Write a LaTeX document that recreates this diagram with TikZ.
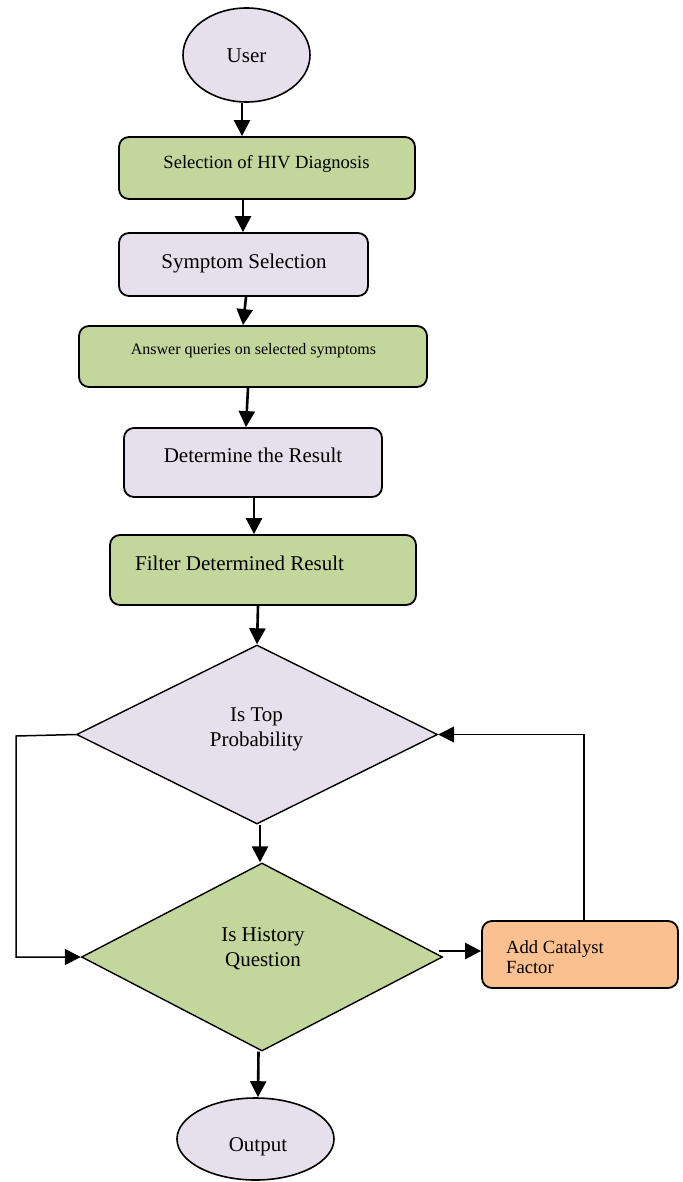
\documentclass[tikz,border=0pt]{standalone}
\usepackage{fontspec}
\setmainfont{Liberation Serif}
\usetikzlibrary{shapes.geometric,arrows.meta,calc}
\definecolor{lav}{HTML}{E5E0EC}
\definecolor{grn}{HTML}{C3D69B}
\definecolor{org}{HTML}{FAC090}
\begin{document}
\begin{tikzpicture}[x=1pt,y=-1pt,
  box/.style={draw=black,line width=1.8pt,rounded corners=10pt,inner sep=0pt},
  ell/.style={ellipse,draw=black,line width=1.6pt,inner sep=0pt,fill=lav},
  dia/.style={diamond,draw=black,line width=1.4pt,inner sep=0pt},
  txt/.style={inner sep=0pt,font=\fontsize{21}{25}\selectfont},
  smalltxt/.style={inner sep=0pt,font=\fontsize{18.6}{20}\selectfont},
  tinytxt/.style={inner sep=0pt,font=\fontsize{16}{19}\selectfont},
  arr/.style={line width=2.6pt,-{Triangle[length=16pt,width=16pt]}},
  back/.style={line width=1.5pt,-{Triangle[length=16pt,width=16pt]}},
]
\useasboundingbox (0,0) rectangle (682,1182);

% shapes
\node[ell,minimum width=127pt,minimum height=94pt] (user) at (246.5,55) {};
\node[box,fill=grn,minimum width=296pt,minimum height=62pt] (sel) at (267,168) {};
\node[box,fill=lav,minimum width=249pt,minimum height=63pt] (sym) at (243.5,264.5) {};
\node[box,fill=grn,minimum width=348pt,minimum height=61pt] (ans) at (253,356.5) {};
\node[box,fill=lav,minimum width=258pt,minimum height=69pt] (det) at (253,462.5) {};
\node[box,fill=grn,minimum width=306pt,minimum height=70pt] (fil) at (263,570) {};
\node[dia,fill=lav,minimum width=361pt,minimum height=179pt] (d1) at (257,734.5) {};
\node[dia,fill=grn,minimum width=361pt,minimum height=188pt] (d2) at (262,957) {};
\node[box,fill=org,minimum width=196pt,minimum height=67pt] (cat) at (580,954.5) {};
\node[ell,minimum width=157pt,minimum height=82pt] (out) at (255.5,1139) {};

% texts
\node[txt,anchor=base] (tuser) at (246.5,63) {User};
\node[smalltxt,anchor=base] (tsel) at (266.5,169) {Selection of HIV Diagnosis};
\node[txt,anchor=base] (tsym) at (244,268) {Symptom Selection};
\node[tinytxt,anchor=base] (tans) at (253.5,354) {Answer queries on selected symptoms};
\node[txt,anchor=base] (tdet) at (253,462) {Determine the Result};
\node[txt,anchor=base west] (tfil) at (135,570) {Filter Determined Result};
\node[txt,anchor=base] (td1a) at (256.5,721) {Is Top};
\node[txt,anchor=base] (td1b) at (256.5,746) {Probability};
\node[txt,anchor=base] (td2a) at (263,941) {Is History};
\node[txt,anchor=base] (td2b) at (263,966) {Question};
\node[smalltxt,anchor=base west] (tcat1) at (506,953) {Add Catalyst};
\node[smalltxt,anchor=base west] (tcat2) at (506,973) {Factor};
\node[txt,anchor=base] (tout) at (258,1151) {Output};

% connectors
\draw[arr] ([xshift=-4.5pt]user.south) -- ([xshift=-4.5pt]user.south |- sel.north);
\draw[arr] ([xshift=-24pt]sel.south) -- ([xshift=-24pt]sel.south |- sym.north);
\draw[arr] ([xshift=2.5pt]sym.south) -- ([xshift=-10pt]ans.north);
\draw[arr] ([xshift=-5pt]ans.south) -- ([xshift=-7pt]det.north);
\draw[arr] ([xshift=1pt]det.south) -- ([xshift=1pt]det.south |- fil.north);
\draw[arr] ([xshift=-5pt]fil.south) -- (d1.north);
\draw[arr] ([xshift=3pt]d1.south) -- ([xshift=-2pt]d2.north);
\draw[arr] ([xshift=-3.5pt]d2.south) -- ([xshift=2.5pt]out.north);
\coordinate (d2r) at ($(d2.east)+(-4,-6)$);
\draw[arr] (d2r) -- (d2r -| cat.west);

\coordinate (lft) at (16,736);
\draw[back] (d1.west) -- (lft) |- (d2.west);
\draw[back] ([xshift=4pt]cat.north) |- (d1.east);
\end{tikzpicture}
\end{document}
